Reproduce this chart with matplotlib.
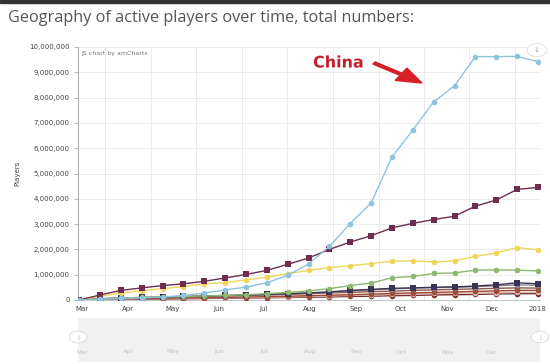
import matplotlib
matplotlib.use("Agg")
import matplotlib.pyplot as plt
import matplotlib.dates as mdates
from matplotlib.patches import FancyArrow, Circle
import matplotlib.patheffects as pe
import numpy as np
import datetime as dt

# ---------------- data (millions of players) ----------------
dates_str = ["2017-02-27", "2017-03-13", "2017-03-27", "2017-04-10", "2017-04-24",
             "2017-05-08", "2017-05-22", "2017-06-05", "2017-06-19", "2017-07-03",
             "2017-07-17", "2017-07-31", "2017-08-14", "2017-08-28", "2017-09-11",
             "2017-09-25", "2017-10-09", "2017-10-23", "2017-11-06", "2017-11-20",
             "2017-12-04", "2017-12-18", "2018-01-01"]

china = [0, 0.03, 0.06, 0.09, 0.12, 0.18, 0.27, 0.40, 0.51, 0.68, 0.98, 1.42, 2.12,
         3.02, 3.84, 5.65, 6.72, 7.83, 8.47, 9.62, 9.62, 9.63, 9.42]
purple = [0, 0.20, 0.38, 0.48, 0.57, 0.64, 0.74, 0.87, 1.01, 1.17, 1.41, 1.66, 2.00,
          2.29, 2.54, 2.85, 3.03, 3.18, 3.31, 3.71, 3.95, 4.37, 4.45]
yellow = [0, 0.15, 0.28, 0.37, 0.45, 0.53, 0.64, 0.68, 0.80, 0.90, 1.04, 1.17, 1.28,
          1.36, 1.44, 1.53, 1.55, 1.50, 1.55, 1.72, 1.86, 2.07, 1.99]
green = [0, 0.05, 0.08, 0.10, 0.12, 0.14, 0.16, 0.18, 0.21, 0.25, 0.30, 0.36, 0.45,
         0.57, 0.67, 0.88, 0.93, 1.05, 1.07, 1.18, 1.19, 1.18, 1.15]
navy = [0, 0.05, 0.08, 0.10, 0.12, 0.14, 0.16, 0.18, 0.20, 0.22, 0.25, 0.28, 0.32,
        0.38, 0.42, 0.46, 0.48, 0.50, 0.52, 0.55, 0.60, 0.68, 0.64]
mauve = [0, 0.04, 0.07, 0.09, 0.11, 0.13, 0.15, 0.17, 0.19, 0.21, 0.24, 0.27, 0.31,
         0.36, 0.40, 0.44, 0.47, 0.49, 0.50, 0.53, 0.56, 0.60, 0.58]
brown = [0, 0.04, 0.06, 0.08, 0.10, 0.12, 0.14, 0.16, 0.18, 0.20, 0.22, 0.25, 0.28,
         0.30, 0.33, 0.35, 0.38, 0.40, 0.42, 0.44, 0.46, 0.48, 0.47]
red = [0, 0.03, 0.05, 0.06, 0.07, 0.08, 0.09, 0.10, 0.12, 0.13, 0.15, 0.17, 0.19,
       0.21, 0.23, 0.26, 0.28, 0.30, 0.32, 0.34, 0.36, 0.38, 0.38]
pink = [0, 0.02, 0.04, 0.05, 0.06, 0.07, 0.08, 0.09, 0.10, 0.11, 0.12, 0.14, 0.16,
        0.18, 0.20, 0.22, 0.24, 0.26, 0.27, 0.28, 0.29, 0.30, 0.30]
darkred = [0, 0.01, 0.02, 0.03, 0.04, 0.05, 0.06, 0.07, 0.08, 0.09, 0.10, 0.11, 0.12,
           0.14, 0.15, 0.17, 0.18, 0.20, 0.21, 0.22, 0.24, 0.25, 0.25]

month_labels = ["Mar", "Apr", "May", "Jun", "Jul", "Aug", "Sep", "Oct", "Nov", "Dec", "2018"]
month_starts = ["2017-03-01", "2017-04-01", "2017-05-01", "2017-06-01", "2017-07-01",
                "2017-08-01", "2017-09-01", "2017-10-01", "2017-11-01", "2017-12-01",
                "2018-01-01"]

title = "Geography of active players over time, total numbers:"

# ---------------- figure ----------------
W, H = 550, 364
fig = plt.figure(figsize=(W / 100, H / 100), dpi=100)
fig.patch.set_facecolor("white")

def fx(px):
    return px / W

def fy(py):
    return 1 - py / H

ax = fig.add_axes([fx(78), fy(300), fx(540) - fx(78), fy(47) - fy(300)])
ax.set_facecolor("white")

dates = [dt.datetime.strptime(d, "%Y-%m-%d") for d in dates_str]
xd = mdates.date2num(dates)
ms = mdates.date2num([dt.datetime.strptime(d, "%Y-%m-%d") for d in month_starts])

series = [
    (darkred, "#7a2b25", "o"),
    (pink, "#d8bcbc", "o"),
    (red, "#a4472f", "o"),
    (brown, "#8c5a4a", "o"),
    (mauve, "#8f7f92", "o"),
    (navy, "#3b3450", "s"),
    (green, "#8fb86f", "o"),
    (yellow, "#efd55a", "o"),
    (purple, "#6e2d50", "s"),
    (china, "#8ec3de", "o"),
]
for vals, col, mk in series:
    ax.plot(xd, np.array(vals) * 1e6, color=col, lw=1.0, marker=mk,
            markersize=4.0, markeredgewidth=0, zorder=3)

ax.set_xlim(xd[0] - 0.8, xd[-1] + 1.4)
ax.set_ylim(0, 10e6)

ax.set_yticks(np.arange(0, 10e6 + 1, 1e6))
ax.set_yticklabels([f"{int(v):,}" for v in np.arange(0, 10e6 + 1, 1e6)],
                   fontsize=5, color="#444444")
ax.set_xticks(ms)
ax.set_xticklabels(month_labels, fontsize=5, color="#444444")
mids = (ms[:-1] + ms[1:]) / 2
ax.tick_params(axis="x", which="both", length=0, pad=4)
ax.tick_params(axis="y", length=3, width=0.6, color="#aaaaaa", pad=3)

ax.grid(False)
for m in mids:
    ax.axvline(m, color="#ebebeb", lw=0.7, zorder=0)
for v in np.arange(1e6, 10e6 + 1, 1e6):
    ax.axhline(v, color="#ebebeb", lw=0.7, zorder=0)

for s in ["top", "right"]:
    ax.spines[s].set_visible(False)
ax.spines["left"].set_color("#b0b0b0")
ax.spines["left"].set_linewidth(0.8)
ax.spines["bottom"].set_color("#c8c8c8")
ax.spines["bottom"].set_linewidth(0.8)

ax.set_ylabel("Players", fontsize=5, color="#444444", labelpad=6)

ax.text(0.008, 0.985, "JS chart by amCharts", transform=ax.transAxes,
        fontsize=4.5, color="#777777", va="top", ha="left")

# title
fig.text(fx(8), fy(18), title, fontsize=11.7, color="#555555",
         family="Open Sans", va="center", ha="left")

# China annotation
fig.text(fx(313), fy(63), "China", fontsize=11.5, fontweight="bold",
         color="#c41e2a", va="center", ha="left", family="DejaVu Sans",
         path_effects=[pe.withStroke(linewidth=2.5, foreground="white")])
arr = FancyArrow(fx(374), fy(63), fx(422) - fx(374), fy(83) - fy(63),
                 width=0.007, head_width=0.04, head_length=0.045,
                 length_includes_head=True, transform=fig.transFigure,
                 color="#d71f26", zorder=10)
fig.patches.append(arr)

# download icon top-right
icon = Circle((fx(537), fy(50)), 0.018, transform=fig.transFigure,
              facecolor="white", edgecolor="#dddddd", lw=0.6, zorder=10)
fig.patches.append(icon)
fig.text(fx(537), fy(50), "↓", fontsize=5, color="#999999", ha="center",
         va="center", zorder=11)

# scrollbar area
sb = fig.add_axes([fx(78), fy(362), fx(540) - fx(78), fy(318) - fy(362)])
sb.set_xlim(ax.get_xlim())
sb.set_ylim(0, 1)
sb.set_facecolor("#f1f1f1")
for s in sb.spines.values():
    s.set_visible(False)
sb.set_yticks([])
sb.set_xticks(ms[:-1])
sb.set_xticklabels(month_labels[:-1], fontsize=4.5, color="#c4c4c4")
sb.tick_params(axis="x", length=0, direction="in", pad=-9)

for hx in (78, 540):
    h = Circle((fx(hx), fy(337)), 0.016, transform=fig.transFigure,
               facecolor="white", edgecolor="#d8d8d8", lw=0.6, zorder=12)
    fig.patches.append(h)
    fig.text(fx(hx), fy(337), "|", fontsize=4, color="#aaaaaa",
             ha="center", va="center", zorder=13)

# thin dark strip at top of screenshot
fig.patches.append(plt.Rectangle((0, fy(3)), 1, fy(0) - fy(3),
                                 transform=fig.transFigure, color="#333333"))

fig.savefig("out.png", dpi=100)
